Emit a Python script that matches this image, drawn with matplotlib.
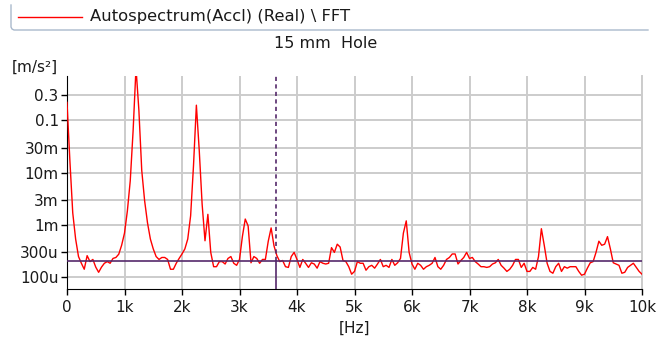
import numpy as np
import matplotlib
matplotlib.use("Agg")
import matplotlib.pyplot as plt
from matplotlib.lines import Line2D

# ---------------- data ----------------
freq_hz = np.arange(0, 10001, 50)
amp = [
    0.22, 0.017, 0.0017, 0.00054, 0.00025, 0.000186, 0.000143, 0.00026, 0.0002, 0.00022,
    0.000157, 0.000125, 0.000157, 0.000186, 0.0002, 0.000186, 0.00023, 0.00024, 0.000277, 0.00041,
    0.0007, 0.00186, 0.007, 0.064, 1.0, 0.156, 0.011, 0.0029, 0.0011, 0.00054,
    0.00035, 0.00025, 0.00022, 0.00024, 0.00024, 0.00022, 0.000143, 0.000143, 0.000186, 0.00023,
    0.00028, 0.00035, 0.00054, 0.0015, 0.0136, 0.194, 0.0265, 0.0025, 0.0005, 0.0016,
    0.0003, 0.00016, 0.00016, 0.0002, 0.0002, 0.00018, 0.00023, 0.00025, 0.000186, 0.00017,
    0.00022, 0.0006, 0.0013, 0.00096, 0.00019, 0.00025, 0.00023, 0.000186, 0.00022, 0.00022,
    0.00049, 0.00088, 0.0004, 0.00026, 0.0002, 0.00021, 0.00016, 0.000155, 0.00025, 0.0003,
    0.00022, 0.000155, 0.00022, 0.000186, 0.000155, 0.00019, 0.00018, 0.00015, 0.0002, 0.000186,
    0.00018, 0.000186, 0.00037, 0.0003, 0.00043, 0.00038, 0.00021, 0.0002, 0.00016, 0.000115,
    0.00013, 0.0002, 0.000186, 0.000186, 0.000137, 0.00016, 0.00017, 0.00015, 0.00018, 0.00022,
    0.00016, 0.00017, 0.000155, 0.00022, 0.00017, 0.00019, 0.00023, 0.0007, 0.0012, 0.0003,
    0.00018, 0.000143, 0.000186, 0.00017, 0.000143, 0.00016, 0.00017, 0.000186, 0.00024, 0.00016,
    0.000143, 0.00017, 0.00022, 0.00024, 0.00028, 0.00028, 0.00018, 0.00021, 0.00024, 0.0003,
    0.00023, 0.00024, 0.0002, 0.00018, 0.00016, 0.00016, 0.000155, 0.00016, 0.00018, 0.00019,
    0.00022, 0.00017, 0.00015, 0.00013, 0.000143, 0.00017, 0.00022, 0.00022, 0.000155, 0.000186,
    0.00013, 0.00013, 0.000155, 0.000143, 0.00025, 0.00085, 0.00041, 0.000186, 0.00013, 0.00012,
    0.00016, 0.000186, 0.00013, 0.00016, 0.00015, 0.00016, 0.00016, 0.00016, 0.00013, 0.00011,
    0.000115, 0.00015, 0.00019, 0.0002, 0.0003, 0.00049, 0.00041, 0.00043, 0.0006, 0.00035,
    0.00019, 0.00018, 0.00017, 0.00012, 0.000125, 0.000155, 0.00017, 0.000186, 0.000155, 0.00013,
    0.000115,
]

cursor_freq = 3640
cursor_level = 2.08e-4

xticks = [0, 1000, 2000, 3000, 4000, 5000, 6000, 7000, 8000, 9000, 10000]
xtick_labels = ["0", "1k", "2k", "3k", "4k", "5k", "6k", "7k", "8k", "9k", "10k"]
yticks = [1e-4, 3e-4, 1e-3, 3e-3, 1e-2, 3e-2, 0.1, 0.3]
ytick_labels = ["100u", "300u", "1m", "3m", "10m", "30m", "0.1", "0.3"]

legend_text = "Autospectrum(Accl) (Real) \\ FFT"
title_text = "15 mm  Hole"
y_unit = "[m/s\u00b2]"
x_unit = "[Hz]"

# ---------------- figure ----------------
W, H = 660, 343
plt.rcParams["font.family"] = ["DejaVu Sans"]
fig = plt.figure(figsize=(W / 100, H / 100), dpi=100)
fig.patch.set_facecolor("white")


def fx(px):
    return px / W


def fy(py):
    return 1 - py / H


ax_l, ax_r, ax_t, ax_b = 67, 642, 76, 289
ax = fig.add_axes([fx(ax_l), fy(ax_b), (ax_r - ax_l) / W, (ax_b - ax_t) / H])

grid_c = "#cccccc"
ax.set_yscale("log")
ax.set_xlim(0, 10000)
ax.set_ylim(6e-5, 0.7)

ax.set_xticks(xticks)
ax.set_xticklabels(xtick_labels)
ax.set_yticks(yticks)
ax.set_yticklabels(ytick_labels)
ax.minorticks_off()
ax.tick_params(axis="both", direction="out", length=4, width=1, color="black",
               labelsize=11, labelcolor="#1a1a1a")
ax.tick_params(axis="x", pad=4)
ax.tick_params(axis="y", pad=2)

ax.grid(True, color=grid_c, linewidth=1.4, zorder=0)
ax.set_axisbelow(True)
ax.spines["top"].set_visible(False)
ax.spines["right"].set_color(grid_c)
ax.spines["right"].set_linewidth(1.4)
ax.spines["left"].set_color("black")
ax.spines["bottom"].set_color("black")

ax.plot(freq_hz, amp, color="#ff0000", linewidth=1.0, zorder=3)

purple = "#55296b"
ax.axhline(cursor_level, color=purple, linewidth=1.2, zorder=4)
ax.plot([cursor_freq, cursor_freq], [cursor_level, 0.7], color=purple,
        linewidth=1.2, linestyle=(0, (2.5, 2)), zorder=4)
ax.plot([cursor_freq, cursor_freq], [6e-5, cursor_level], color=purple,
        linewidth=1.2, zorder=4)

# texts
fig.text(fx(12), fy(67), y_unit, ha="left", va="center", fontsize=11, color="#1a1a1a")
fig.text(fx(355), fy(328), x_unit, ha="center", va="center", fontsize=11, color="#1a1a1a")
fig.text(fx(326), fy(43), title_text, ha="center", va="center", fontsize=11.5, color="#1a1a1a")

# legend frame
box_c = "#a9b9cc"
fig.add_artist(Line2D([fx(11), fx(11), fx(12), fx(14), fx(648)],
                      [fy(5), fy(27), fy(29), fy(30), fy(30)],
                      transform=fig.transFigure, color=box_c, linewidth=1.0))
fig.add_artist(Line2D([fx(18), fx(82)], [fy(17), fy(17)],
                      transform=fig.transFigure, color="#ff0000", linewidth=1.0))
fig.text(fx(90), fy(17), legend_text, ha="left", va="center", fontsize=11.8, color="#1a1a1a")

fig.savefig("out.png", dpi=100, facecolor="white")
